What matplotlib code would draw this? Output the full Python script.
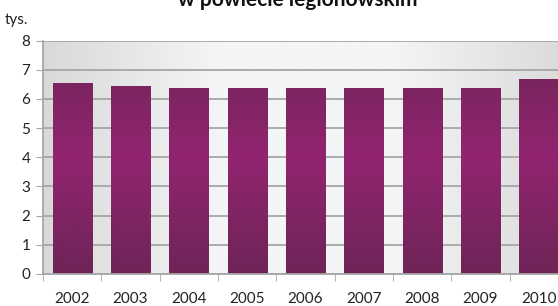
import numpy as np
import matplotlib
matplotlib.use("Agg")
import matplotlib.pyplot as plt
from matplotlib.colors import LinearSegmentedColormap

years = ["2002", "2003", "2004", "2005", "2006", "2007", "2008", "2009", "2010"]
values = [6.56, 6.46, 6.39, 6.38, 6.38, 6.38, 6.38, 6.39, 6.69]
yticks = [0, 1, 2, 3, 4, 5, 6, 7, 8]

plt.rcParams["font.family"] = ["Lato", "DejaVu Sans"]

fig = plt.figure(figsize=(5.58, 3.06), dpi=100)
ax = fig.add_axes([0.077, 0.105, 0.941, 0.762])

x = np.arange(len(years))
ax.set_xlim(-0.5, len(years) - 0.5)
ax.set_ylim(0, 8)

# background: horizontal grey gradient
bg = LinearSegmentedColormap.from_list("bg", ["#d9d9d9", "#f4f5f6", "#f4f5f6", "#dadada"])
ax.imshow(np.linspace(0, 1, 256)[None, :], cmap=bg, aspect="auto",
          extent=[-0.5, len(years) - 0.5, 0, 8], zorder=0)

ax.grid(axis="y", color="#a6a6a6", linewidth=1.3, zorder=1)
ax.set_axisbelow(True)

bars = ax.bar(x, values, width=0.67, color="none", zorder=2)
grad = LinearSegmentedColormap.from_list("bar", ["#6e2457", "#922470", "#6e2457"])
for b in bars:
    im = ax.imshow(np.linspace(0, 1, 256)[:, None], cmap=grad, aspect="auto",
                   extent=[b.get_x(), b.get_x() + b.get_width(), 0, 8], zorder=2)
    im.set_clip_path(b)

ax.set_yticks(yticks)
ax.set_yticklabels([str(t) for t in yticks], fontsize=11, color="#222222")
ax.set_xticks(x)
ax.set_xticklabels(years, fontsize=11, color="#222222")
ax.set_xticks(np.arange(-0.5, len(years)), minor=True)
ax.tick_params(axis="x", which="major", length=0, pad=13)
ax.tick_params(axis="x", which="minor", length=5, color="#a6a6a6")
ax.tick_params(axis="y", length=5, color="#a6a6a6", pad=4)

for s in ["top", "right"]:
    ax.spines[s].set_visible(False)
for s in ["left", "bottom"]:
    ax.spines[s].set_color("#a6a6a6")
    ax.spines[s].set_linewidth(1.3)

fig.text(5 / 558, 1 - 20 / 306, "tys.", fontsize=11, va="center", ha="left", color="#222222")
# title is partly cut off at the top edge, as in the source image
fig.text(298 / 558, 1 - 0 / 306, "w powiecie legionowskim", fontsize=15,
         fontweight="bold", ha="center", va="center", color="#111111")

fig.savefig("out.png", dpi=100)
